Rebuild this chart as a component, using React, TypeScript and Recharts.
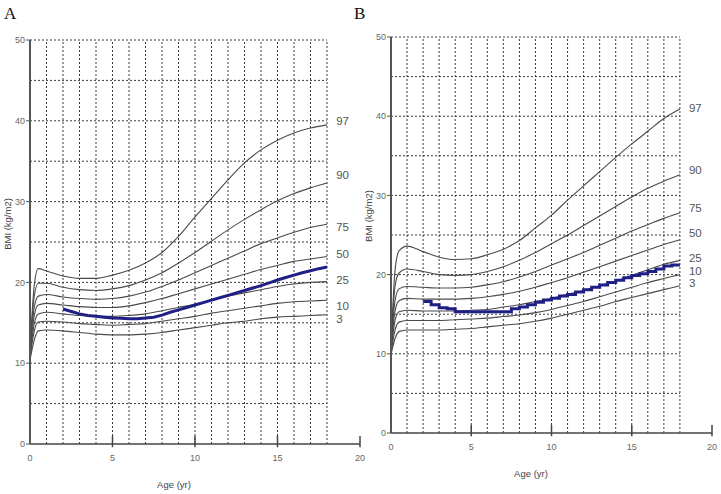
import React from 'react';
import { LineChart, Line, XAxis, YAxis, ReferenceLine, ReferenceDot } from 'recharts';

// ages at which the reference percentile curves are read
const ages = [0, 0.25, 0.5, 1, 2, 3, 4, 5, 6, 7, 8, 9, 10, 11, 12, 13, 14, 15, 16, 17, 18];
const pctNames = ['97', '90', '75', '50', '25', '10', '3'];

// panel A percentile curves (BMI)
const aP97 = [11.5, 19.5, 21.7, 21.4, 20.8, 20.5, 20.5, 20.9, 21.5, 22.4, 23.7, 25.7, 28.1, 30.4, 32.7, 34.8, 36.4, 37.6, 38.5, 39.1, 39.5];
const aP90 = [11.3, 18.2, 19.9, 19.9, 19.4, 19.1, 19.0, 19.2, 19.6, 20.3, 21.2, 22.4, 23.7, 25.1, 26.5, 27.8, 29.0, 30.1, 31.0, 31.7, 32.3];
const aP75 = [11.2, 16.8, 18.3, 18.5, 18.2, 18.0, 17.9, 18.0, 18.3, 18.8, 19.5, 20.3, 21.2, 22.1, 23.0, 23.9, 24.8, 25.5, 26.2, 26.8, 27.2];
const aP50 = [11.0, 15.8, 17.2, 17.4, 17.2, 17.0, 16.9, 16.9, 17.1, 17.5, 18.0, 18.6, 19.2, 19.8, 20.4, 21.0, 21.6, 22.1, 22.6, 22.9, 23.2];
const aP25 = [10.8, 14.8, 16.1, 16.3, 16.1, 15.9, 15.8, 15.8, 15.9, 16.1, 16.5, 16.9, 17.3, 17.8, 18.3, 18.7, 19.1, 19.5, 19.8, 20.0, 20.1];
const aP10 = [10.6, 13.9, 15.1, 15.2, 15.1, 14.9, 14.8, 14.7, 14.8, 14.9, 15.2, 15.5, 15.8, 16.2, 16.5, 16.8, 17.1, 17.4, 17.6, 17.7, 17.8];
const aP3 = [10.4, 12.8, 14.0, 14.1, 14.0, 13.8, 13.6, 13.5, 13.5, 13.6, 13.8, 14.1, 14.4, 14.7, 15.0, 15.2, 15.5, 15.7, 15.8, 15.9, 16.0];

// panel B percentile curves (BMI)
const bP97 = [10.5, 20.5, 23.0, 23.6, 22.9, 22.2, 21.9, 22.0, 22.5, 23.2, 24.3, 25.9, 27.5, 29.4, 31.2, 33.0, 34.8, 36.5, 38.1, 39.7, 40.9];
const bP90 = [10.4, 18.5, 20.2, 20.7, 20.4, 20.0, 19.9, 20.0, 20.4, 21.0, 21.8, 22.8, 23.9, 25.0, 26.2, 27.4, 28.6, 29.8, 30.9, 31.8, 32.6];
const bP75 = [10.3, 16.7, 18.2, 18.5, 18.4, 18.3, 18.3, 18.4, 18.7, 19.1, 19.7, 20.4, 21.2, 22.0, 22.8, 23.7, 24.6, 25.5, 26.3, 27.1, 27.8];
const bP50 = [10.2, 15.4, 16.7, 17.0, 16.9, 16.9, 16.9, 17.0, 17.2, 17.5, 17.9, 18.4, 19.0, 19.6, 20.3, 21.0, 21.7, 22.4, 23.1, 23.8, 24.4];
const bP25 = [10.1, 14.2, 15.3, 15.5, 15.4, 15.4, 15.4, 15.5, 15.6, 15.9, 16.2, 16.6, 17.0, 17.5, 18.0, 18.6, 19.2, 19.9, 20.6, 21.3, 21.8];
const bP10 = [10.0, 13.0, 14.0, 14.2, 14.2, 14.2, 14.3, 14.4, 14.5, 14.7, 14.9, 15.2, 15.6, 16.1, 16.6, 17.2, 17.8, 18.4, 19.0, 19.5, 20.0];
const bP3 = [9.9, 11.9, 12.8, 13.0, 13.0, 13.0, 13.1, 13.2, 13.4, 13.6, 13.8, 14.1, 14.5, 15.0, 15.5, 16.0, 16.6, 17.1, 17.6, 18.1, 18.6];

// the child's own BMI track
const kidAges = [2, 2.5, 3, 3.5, 4, 4.5, 5, 5.5, 6, 6.5, 7, 7.5, 8, 8.5, 9, 9.5, 10, 10.5, 11, 11.5, 12, 12.5, 13, 13.5, 14, 14.5, 15, 15.5, 16, 16.5, 17, 17.5, 18];
const aKidBmi = [16.7, 16.4, 16.1, 15.9, 15.8, 15.7, 15.6, 15.55, 15.5, 15.5, 15.6, 15.7, 15.95, 16.3, 16.6, 16.9, 17.2, 17.5, 17.8, 18.1, 18.4, 18.7, 19.0, 19.3, 19.6, 19.95, 20.3, 20.6, 20.9, 21.2, 21.45, 21.7, 21.9];
const bKidBmi = [16.6, 16.2, 15.8, 15.7, 15.3, 15.3, 15.3, 15.3, 15.3, 15.3, 15.3, 15.7, 15.9, 16.2, 16.5, 16.8, 17.0, 17.3, 17.5, 17.8, 18.1, 18.4, 18.7, 19.0, 19.3, 19.6, 19.9, 20.1, 20.4, 20.7, 21.1, 21.2, 21.2];

// where the percentile names sit (BMI units)
const aLabelY = [40.0, 33.3, 26.9, 23.5, 20.3, 17.1, 15.5];
const bLabelY = [41.0, 33.2, 28.4, 25.3, 22.1, 20.5, 18.9];

const xTicks = [0, 5, 10, 15, 20];
const yTicks = [0, 10, 20, 30, 40, 50];
const gridAges = [1, 2, 3, 4, 5, 6, 7, 8, 9, 10, 11, 12, 13, 14, 15, 16, 17, 18];
const gridBmi = [5, 10, 15, 20, 25, 30, 35, 40, 45, 50];

const toPoints = (xs: number[], ys: number[]) => xs.map((x, i) => ({ age: x, bmi: ys[i] }));

const curveGray = '#4a4a4a';
const gridGray = '#3a3a3a';

type PanelProps = {
  width: number;
  height: number;
  top: number;
  right: number;
  xAxisHeight: number;
  curves: number[][];
  kid: number[];
  kidType: 'linear' | 'stepAfter';
  labelY: number[];
};

const Panel = ({ width, height, top, right, xAxisHeight, curves, kid, kidType, labelY }: PanelProps) => (
  <LineChart width={width} height={height} margin={{ top, right, left: 0, bottom: 0 }}>
    <XAxis
      type="number"
      dataKey="age"
      domain={[0, 20]}
      ticks={xTicks}
      height={xAxisHeight}
      tickLine={false}
      tickSize={0}
      tickMargin={11}
      axisLine={{ stroke: '#444', strokeWidth: 1.5 }}
      tick={{ fill: '#666', fontSize: 9 }}
      allowDataOverflow
    />
    <YAxis
      type="number"
      dataKey="bmi"
      domain={[0, 50]}
      ticks={yTicks}
      width={30}
      tickSize={4}
      tickMargin={1}
      tickLine={{ stroke: '#555' }}
      axisLine={{ stroke: '#555', strokeWidth: 2 }}
      tick={{ fill: '#666', fontSize: 9 }}
      allowDataOverflow
    />
    {gridBmi.map((v) => (
      <ReferenceLine key={'h' + v} segment={[{ x: 0, y: v }, { x: 18, y: v }]} stroke={gridGray} strokeDasharray="2 2" ifOverflow="visible" />
    ))}
    {gridAges.map((v) => (
      <ReferenceLine key={'v' + v} segment={[{ x: v, y: 0 }, { x: v, y: 50 }]} stroke={gridGray} strokeDasharray="2 2" ifOverflow="visible" />
    ))}
    {xTicks.slice(1).map((v) => (
      <ReferenceLine key={'t' + v} segment={[{ x: v, y: -0.4 }, { x: v, y: 1 }]} stroke="#444" strokeWidth={1.5} ifOverflow="visible" />
    ))}
    {curves.map((c, i) => (
      <Line
        key={pctNames[i]}
        data={toPoints(ages, c)}
        dataKey="bmi"
        type="monotone"
        stroke={curveGray}
        strokeWidth={1.1}
        dot={false}
        isAnimationActive={false}
      />
    ))}
    <Line data={toPoints(kidAges, kid)} dataKey="bmi" type={kidType} stroke="#1f1f86" strokeWidth={3} dot={false} isAnimationActive={false} />
    {pctNames.map((n, i) => (
      <ReferenceDot
        key={'l' + n}
        x={18.25}
        y={labelY[i]}
        r={0}
        stroke="none"
        fill="none"
        ifOverflow="visible"
        label={{ value: n, position: 'right', fill: '#555', fontSize: 11.5 }}
      />
    ))}
  </LineChart>
);

export default function App() {
  return (
    <div style={{ position: 'absolute', left: 0, top: 0, width: 721, height: 494, background: '#fff', fontFamily: '"Liberation Sans", Arial, sans-serif' }}>
      <div style={{ position: 'absolute', left: 0, top: 0 }}>
        <Panel width={380} height={494} top={40} right={20} xAxisHeight={50}
          curves={[aP97, aP90, aP75, aP50, aP25, aP10, aP3]} kid={aKidBmi} kidType="linear" labelY={aLabelY} />
      </div>
      <div style={{ position: 'absolute', left: 361, top: 0 }}>
        <Panel width={360} height={494} top={37} right={9} xAxisHeight={61}
          curves={[bP97, bP90, bP75, bP50, bP25, bP10, bP3]} kid={bKidBmi} kidType="stepAfter" labelY={bLabelY} />
      </div>
      <svg width={721} height={494} style={{ position: 'absolute', left: 0, top: 0, pointerEvents: 'none' }}>
        <text x={4} y={19} fontFamily='"Liberation Serif", serif' fontSize={17} fill="#111">A</text>
        <text x={354} y={19} fontFamily='"Liberation Serif", serif' fontSize={17} fill="#111">B</text>
        <text x={11} y={224} transform="rotate(-90 11 224)" textAnchor="middle" fontSize={9.5} fill="#444">BMI (kg/m2)</text>
        <text x={372} y={216} transform="rotate(-90 372 216)" textAnchor="middle" fontSize={9.5} fill="#444">BMI (kg/m2)</text>
        <text x={174} y={488} textAnchor="middle" fontSize={9.5} fill="#444">Age (yr)</text>
        <text x={531} y={477} textAnchor="middle" fontSize={9.5} fill="#444">Age (yr)</text>
      </svg>
    </div>
  );
}
